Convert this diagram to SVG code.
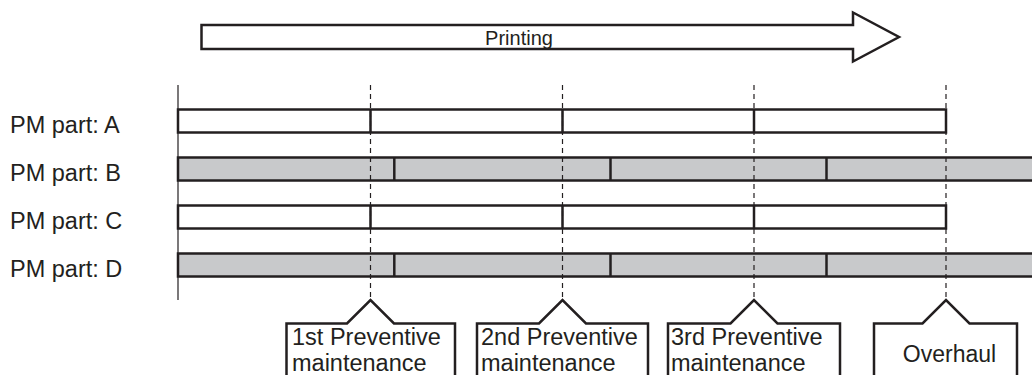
<svg xmlns="http://www.w3.org/2000/svg" width="1032" height="375" viewBox="0 0 1032 375">
<style>
.t{font-family:"Liberation Sans",Arial,sans-serif;fill:#231f20}
.lbl{font-size:23.5px}
.bar{stroke:#231f20;stroke-width:2.5}
.w{fill:#fff}
.g{fill:#c8c9cb}
.div{stroke:#231f20;stroke-width:2.5}
.dash{stroke:#231f20;stroke-width:1.2;stroke-dasharray:5 4;fill:none}
.call{fill:#fff;stroke:#231f20;stroke-width:2.5;stroke-linejoin:miter}
</style>
<rect width="1032" height="375" fill="#fff"/>
<g id="printing-arrow">
<polygon points="201.5,25 853,25 853,12.5 899,37 853,61.5 853,49 201.5,49" fill="#fff" stroke="#231f20" stroke-width="2.5"/>
<text class="t" x="519" y="44.5" font-size="20" text-anchor="middle">Printing</text>
</g>
<g id="axis">
<line x1="178" y1="85" x2="178" y2="300" stroke="#231f20" stroke-width="1.2"/>
</g>
<g id="row-a">
<text class="t lbl" x="10" y="132.5">PM part: A</text>
<rect class="bar w" x="178" y="109.5" width="768" height="23"/>
<line class="div" x1="370.5" y1="109.5" x2="370.5" y2="132.5"/>
<line class="div" x1="562.5" y1="109.5" x2="562.5" y2="132.5"/>
<line class="div" x1="754" y1="109.5" x2="754" y2="132.5"/>
</g>
<g id="row-b">
<text class="t lbl" x="10" y="180.5">PM part: B</text>
<rect class="bar g" x="178" y="157.5" width="880" height="23"/>
<line class="div" x1="394.3" y1="157.5" x2="394.3" y2="180.5"/>
<line class="div" x1="610.5" y1="157.5" x2="610.5" y2="180.5"/>
<line class="div" x1="826.5" y1="157.5" x2="826.5" y2="180.5"/>
</g>
<g id="row-c">
<text class="t lbl" x="10" y="228.5">PM part: C</text>
<rect class="bar w" x="178" y="205.5" width="768" height="23"/>
<line class="div" x1="370.5" y1="205.5" x2="370.5" y2="228.5"/>
<line class="div" x1="562.5" y1="205.5" x2="562.5" y2="228.5"/>
<line class="div" x1="754" y1="205.5" x2="754" y2="228.5"/>
</g>
<g id="row-d">
<text class="t lbl" x="10" y="276.5">PM part: D</text>
<rect class="bar g" x="178" y="253.5" width="880" height="23"/>
<line class="div" x1="394.3" y1="253.5" x2="394.3" y2="276.5"/>
<line class="div" x1="610.5" y1="253.5" x2="610.5" y2="276.5"/>
<line class="div" x1="826.5" y1="253.5" x2="826.5" y2="276.5"/>
</g>
<g id="connectors">
<line class="dash" x1="370.5" y1="85" x2="370.5" y2="300"/>
<line class="dash" x1="562.5" y1="85" x2="562.5" y2="300"/>
<line class="dash" x1="754" y1="85" x2="754" y2="300"/>
<line class="dash" x1="946" y1="85" x2="946" y2="300"/>
</g>
<g id="pm1">
<path class="call" d="M286.5,390 V323.5 H347 L370.5,300 L394,323.5 H455 V390"/>
<text class="t lbl" x="292" y="345">1st Preventive</text>
<text class="t lbl" x="292" y="370.5">maintenance</text>
</g>
<g id="pm2">
<path class="call" d="M477,390 V323.5 H539 L562.5,300 L586,323.5 H648 V390"/>
<text class="t lbl" x="481" y="345">2nd Preventive</text>
<text class="t lbl" x="481" y="370.5">maintenance</text>
</g>
<g id="pm3">
<path class="call" d="M668,390 V323.5 H730.5 L754,300 L777.5,323.5 H840 V390"/>
<text class="t lbl" x="671" y="345">3rd Preventive</text>
<text class="t lbl" x="671" y="370.5">maintenance</text>
</g>
<g id="overhaul">
<path class="call" d="M874,390 V323.5 H922.5 L946,300 L969.5,323.5 H1017 V390"/>
<text class="t" x="949.5" y="361.5" font-size="23" text-anchor="middle">Overhaul</text>
</g>
</svg>
